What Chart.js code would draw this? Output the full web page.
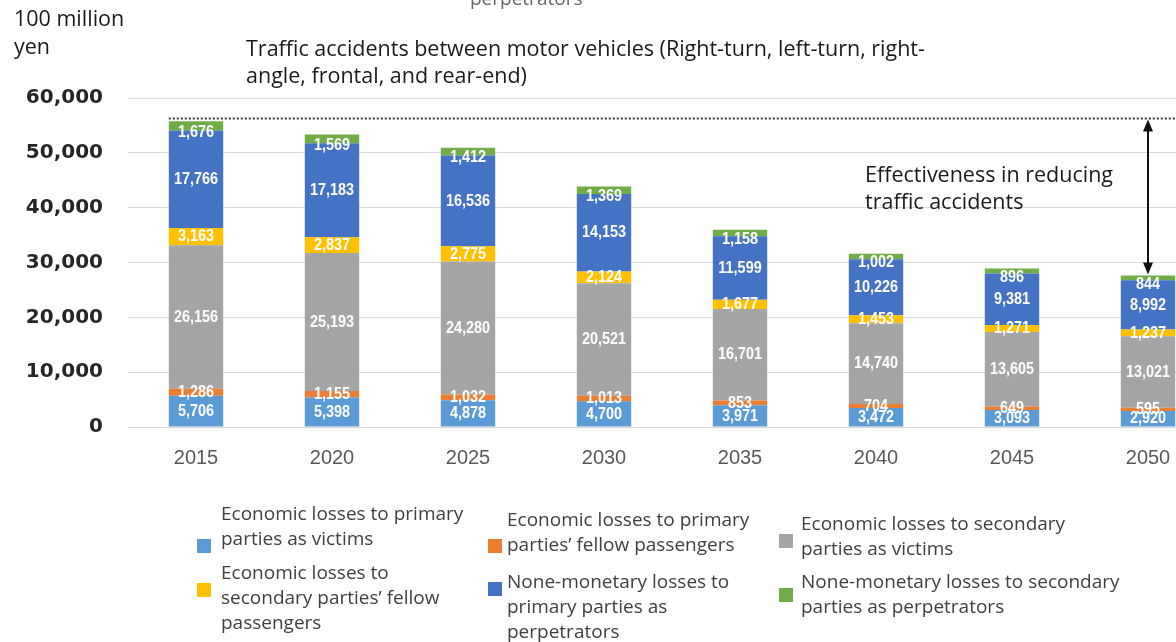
<!DOCTYPE html>
<html>
<head>
<meta charset="utf-8">
<script src="https://cdn.jsdelivr.net/npm/chart.js@4/dist/chart.umd.min.js"></script>
<style>
  html, body { margin: 0; padding: 0; background: #fff; overflow: hidden; }
  #c { position: absolute; left: 0; top: 0; }
</style>
</head>
<body>
<canvas id="c" width="1230" height="642"></canvas>
<script>
// values in 100 million yen
const years = ['2015', '2020', '2025', '2030', '2035', '2040', '2045', '2050'];

const primaryVictims = [5706, 5398, 4878, 4700, 3971, 3472, 3093, 2920];
const primaryPassengers = [1286, 1155, 1032, 1013, 853, 704, 649, 595];
const secondaryVictims = [26156, 25193, 24280, 20521, 16701, 14740, 13605, 13021];
const secondaryPassengers = [3163, 2837, 2775, 2124, 1677, 1453, 1271, 1237];
const primaryPerpetrators = [17766, 17183, 16536, 14153, 11599, 10226, 9381, 8992];
const secondaryPerpetrators = [1676, 1569, 1412, 1369, 1158, 1002, 896, 844];

const yTicks = [0, 10000, 20000, 30000, 40000, 50000, 60000];
const refLevel = 56400; // dotted line

const seriesNames = [
    'Economic losses to primary parties as victims',
    'Economic losses to primary parties\u2019 fellow passengers',
    'Economic losses to secondary parties as victims',
    'Economic losses to secondary parties\u2019 fellow passengers',
    'None-monetary losses to primary parties as perpetrators',
    'None-monetary losses to secondary parties as perpetrators'
];
// how the legend wraps in the picture
const legendLines = [
    ['Economic losses to primary', 'parties as victims'],
    ['Economic losses to primary', 'parties\u2019 fellow passengers'],
    ['Economic losses to secondary', 'parties as victims'],
    ['Economic losses to', 'secondary parties\u2019 fellow', 'passengers'],
    ['None-monetary losses to', 'primary parties as', 'perpetrators'],
    ['None-monetary losses to secondary', 'parties as perpetrators']
];
const colors = ['#5B9BD5', '#ED7D31', '#A5A5A5', '#FFC000', '#4472C4', '#70AD47'];
const allSeries = [primaryVictims, primaryPassengers, secondaryVictims,
    secondaryPassengers, primaryPerpetrators, secondaryPerpetrators];

const datasets = allSeries.map((vals, i) => ({
    label: seriesNames[i],
    data: vals,
    backgroundColor: colors[i],
    borderWidth: 0,
    barPercentage: 0.4,
    categoryPercentage: 1.0
}));

const textFont = '"Open Sans", "Noto Sans", sans-serif';

// labels inside bar segments (squeezed a bit, like a condensed face)
const barLabels = {
    id: 'barLabels',
    afterDatasetsDraw(chart) {
        const ctx = chart.ctx;
        ctx.save();
        ctx.font = 'bold 17px "Liberation Sans", sans-serif';
        ctx.fillStyle = '#ffffff';
        ctx.textAlign = 'center';
        ctx.textBaseline = 'middle';
        chart.data.datasets.forEach((ds, i) => {
            chart.getDatasetMeta(i).data.forEach((bar, j) => {
                let y = (bar.y + bar.base) / 2;
                if (i === 5) y += 6;
                ctx.save();
                ctx.translate(bar.x, y);
                ctx.scale(0.85, 1);
                ctx.fillText(ds.data[j].toLocaleString('en-US'), 0, 0);
                ctx.restore();
            });
        });
        ctx.restore();
    }
};

// dotted reference line, arrow, texts and legend
const extras = {
    id: 'extras',
    afterDraw(chart) {
        const ctx = chart.ctx;
        const x = chart.scales.x, y = chart.scales.y;
        const area = chart.chartArea;
        ctx.save();

        // dotted line
        const firstBar = chart.getDatasetMeta(0).data[0];
        const yRef = Math.round(y.getPixelForValue(refLevel)) + 0.5;
        ctx.strokeStyle = '#333';
        ctx.lineWidth = 2;
        ctx.setLineDash([2, 2]);
        ctx.beginPath();
        ctx.moveTo(firstBar.x - firstBar.width / 2, yRef);
        ctx.lineTo(area.right, yRef);
        ctx.stroke();
        ctx.setLineDash([]);

        // double arrow to 2050 total
        const last = years.length - 1;
        const total = allSeries.reduce((s, a) => s + a[last], 0);
        const ax = x.getPixelForValue(last);
        const yTop = yRef + 1, yBot = y.getPixelForValue(total) - 1;
        ctx.strokeStyle = '#111';
        ctx.fillStyle = '#111';
        ctx.lineWidth = 2;
        ctx.beginPath();
        ctx.moveTo(ax, yTop + 10);
        ctx.lineTo(ax, yBot - 10);
        ctx.stroke();
        ctx.beginPath();
        ctx.moveTo(ax, yTop); ctx.lineTo(ax - 5, yTop + 12); ctx.lineTo(ax + 5, yTop + 12);
        ctx.closePath(); ctx.fill();
        ctx.beginPath();
        ctx.moveTo(ax, yBot); ctx.lineTo(ax - 5, yBot - 12); ctx.lineTo(ax + 5, yBot - 12);
        ctx.closePath(); ctx.fill();

        // texts
        ctx.textAlign = 'left';
        ctx.textBaseline = 'middle';
        ctx.fillStyle = '#1a1a1a';
        ctx.font = '21.5px ' + textFont;
        ctx.fillText('100 million', 14, 20);
        ctx.fillText('yen', 14, 48);
        ctx.fillText('Traffic accidents between motor vehicles (Right-turn, left-turn, right-', 246, 50);
        ctx.fillText('angle, frontal, and rear-end)', 246, 77);
        ctx.fillText('Effectiveness in reducing', 865, 176);
        ctx.fillText('traffic accidents', 865, 203);

        ctx.fillStyle = '#666';
        ctx.font = '19px ' + textFont;
        ctx.fillText('perpetrators', 470, 0);

        // legend
        const boxX = [197, 488, 779];
        const textX = [221, 507, 801];
        const firstLine = [515, 521, 525, 574, 583, 583];
        const boxY = [546, 546, 541, 590, 589, 595];
        ctx.font = '19px ' + textFont;
        legendLines.forEach((lines, i) => {
            const col = i % 3;
            ctx.fillStyle = colors[i];
            ctx.fillRect(boxX[col], boxY[i] - 7, 14, 14);
            ctx.fillStyle = '#404040';
            lines.forEach((t, k) => {
                ctx.fillText(t, textX[col], firstLine[i] + k * 25);
            });
        });
        ctx.restore();
    }
};

new Chart(document.getElementById('c'), {
    type: 'bar',
    data: { labels: years, datasets: datasets },
    options: {
        responsive: false,
        animation: false,
        devicePixelRatio: 1,
        layout: { padding: { top: 98, left: 0, right: 14, bottom: 155 } },
        plugins: { legend: { display: false }, tooltip: { enabled: false } },
        scales: {
            x: {
                stacked: true,
                grid: { display: false },
                border: { display: false },
                ticks: {
                    color: '#595959',
                    padding: 11,
                    font: { family: '"Liberation Sans", sans-serif', size: 20 }
                },
                afterFit(scale) { scale.height = 60; }
            },
            y: {
                stacked: true,
                min: 0,
                max: 60000,
                grid: { color: '#d9d9d9', drawTicks: false },
                border: { display: false },
                afterBuildTicks(scale) { scale.ticks = yTicks.map(v => ({ value: v })); },
                afterFit(scale) { scale.width = 128; },
                ticks: {
                    color: '#262626',
                    padding: 25,
                    font: { family: '"DejaVu Sans", sans-serif', size: 20, weight: 'bold' },
                    callback: v => v.toLocaleString('en-US')
                }
            }
        }
    },
    plugins: [barLabels, extras]
});
</script>
</body>
</html>
